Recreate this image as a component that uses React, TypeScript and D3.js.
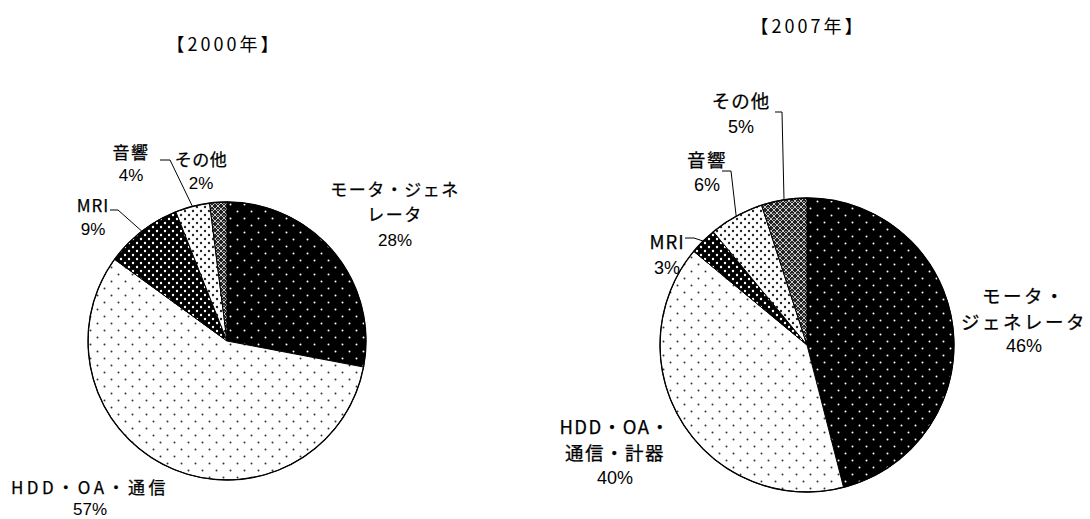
import React from "react";
import * as d3 from "d3";

// ---- data ----
const categories2000 = ["モータ・ジェネレータ", "HDD・OA・通信", "MRI", "音響", "その他"];
const values2000 = [28, 57, 9, 4, 2];
const labelLines2000 = [["モータ・ジェネ", "レータ"], ["HDD・OA・通信"], ["MRI"], ["音響"], ["その他"]];

const categories2007 = ["モータ・ジェネレータ", "HDD・OA・通信・計器", "MRI", "音響", "その他"];
const values2007 = [46, 40, 3, 6, 5];
const labelLines2007 = [["モータ・", "ジェネレータ"], ["HDD・OA・", "通信・計器"], ["MRI"], ["音響"], ["その他"]];

const titles = ["【2000年】", "【2007年】"];
const patternIds = ["pMotor", "pHdd", "pMri", "pAudio", "pOther"];

// ---- layout ----
const W = 1090, H = 519;
const FONT = "'Noto Sans CJK JP', 'Noto Sans', sans-serif";
const NUMFONT = "'Liberation Sans Narrow', 'Liberation Sans', Arial, sans-serif";

const charts = [
  {
    cx: 227, cy: 341, r: 139, fs: 17, lh: 25, pfs: 17,
    title: { x: 224, y: 45 },
    labels: [
      { x: 395, y: 190, pct: 240, ls: 1.5, leader: null },
      { x: 90, y: 488, pct: 509, ls: 3.5, leader: null },
      { x: 93, y: 206, pct: 229, ls: 1, leader: [110, 210, 118, 210] },
      { x: 131, y: 153, pct: 175, ls: 1.5, leader: [160, 160, 170, 160] },
      { x: 201, y: 160, pct: 183, ls: 0.5, leader: null },
    ],
  },
  {
    cx: 807, cy: 345, r: 147, fs: 18.5, lh: 26, pfs: 18,
    title: { x: 808, y: 27 },
    labels: [
      { x: 1024, y: 296, pct: 346, ls: 2.5, leader: null },
      { x: 615, y: 427, pct: 478, ls: 1.5, leader: null },
      { x: 667, y: 242, pct: 268, ls: 1, leader: [685, 238, 694, 238] },
      { x: 707, y: 160, pct: 185, ls: 1.5, leader: [722, 171, 731, 171] },
      { x: 741, y: 101, pct: 127, ls: 1, leader: [775, 112, 782, 112] },
    ],
  },
];

function Pie({ cfg, values, lines, title }: any) {
  const pie = d3.pie<number>().sort(null).value((d) => d);
  const arcs = pie(values);
  const arc = d3.arc<d3.PieArcDatum<number>>().innerRadius(0).outerRadius(cfg.r);
  return (
    <g>
      <text x={cfg.title.x} y={cfg.title.y + 0.36 * 18} textAnchor="middle"
        fontSize={18} fontFamily={FONT} letterSpacing={3}>{title}</text>
      <g transform={`translate(${cfg.cx},${cfg.cy})`}>
        {arcs.map((a, i) => (
          <path key={i} d={arc(a) || ""} fill={`url(#${patternIds[i]})`} stroke="#000" strokeWidth={1} />
        ))}
        <circle r={cfg.r} fill="none" stroke="#000" strokeWidth={1.3} />
      </g>
      {arcs.map((a, i) => {
        const L = cfg.labels[i];
        const mid = (a.startAngle + a.endAngle) / 2;
        const ex = cfg.cx + cfg.r * Math.sin(mid);
        const ey = cfg.cy - cfg.r * Math.cos(mid);
        return (
          <g key={i}>
            {L.leader && (
              <polyline points={`${L.leader[0]},${L.leader[1]} ${L.leader[2]},${L.leader[3]} ${ex},${ey}`}
                fill="none" stroke="#000" strokeWidth={1} />
            )}
            {lines[i].map((t: string, j: number) => (
              <text key={j} x={L.x} y={L.y + j * cfg.lh + 0.36 * cfg.fs} textAnchor="middle"
                fontSize={cfg.fs} letterSpacing={L.ls} fontFamily={FONT} fill="#000"
                stroke="#000" strokeWidth={0.25}>{t}</text>
            ))}
            <text x={L.x} y={L.pct + 0.36 * cfg.pfs} textAnchor="middle"
              fontSize={cfg.pfs} fontFamily={NUMFONT} fill="#000">{`${values[i]}%`}</text>
          </g>
        );
      })}
    </g>
  );
}

export default function App() {
  return (
    <svg width={W} height={H} style={{ display: "block", position: "absolute", left: 0, top: 0 }}>
      <defs>
        <pattern id="pMotor" width={14} height={14} patternUnits="userSpaceOnUse">
          <rect width={14} height={14} fill="#000" />
          <circle cx={3.5} cy={3.5} r={1} fill="#fff" />
          <circle cx={10.5} cy={10.5} r={1} fill="#fff" />
        </pattern>
        <pattern id="pHdd" width={14} height={14} patternUnits="userSpaceOnUse">
          <rect width={14} height={14} fill="#fff" />
          <circle cx={3.5} cy={3.5} r={1} fill="#333" />
          <circle cx={10.5} cy={10.5} r={1} fill="#333" />
        </pattern>
        <pattern id="pMri" width={8} height={8} patternUnits="userSpaceOnUse">
          <rect width={8} height={8} fill="#000" />
          <circle cx={2} cy={2} r={1.2} fill="#fff" />
          <circle cx={6} cy={6} r={1.2} fill="#fff" />
        </pattern>
        <pattern id="pAudio" width={8} height={8} patternUnits="userSpaceOnUse">
          <rect width={8} height={8} fill="#fff" />
          <circle cx={2} cy={2} r={1.2} fill="#222" />
          <circle cx={6} cy={6} r={1.2} fill="#222" />
        </pattern>
        <pattern id="pOther" width={6} height={6} patternUnits="userSpaceOnUse">
          <rect width={6} height={6} fill="#222" />
          <path d="M0,0 L6,6 M6,0 L0,6" stroke="#ccc" strokeWidth={1} />
          <circle cx={3} cy={0} r={0.8} fill="#fff" />
        </pattern>
      </defs>
      <rect width={W} height={H} fill="#fff" />
      <Pie cfg={charts[0]} values={values2000} lines={labelLines2000} title={titles[0]} />
      <Pie cfg={charts[1]} values={values2007} lines={labelLines2007} title={titles[1]} />
    </svg>
  );
}
